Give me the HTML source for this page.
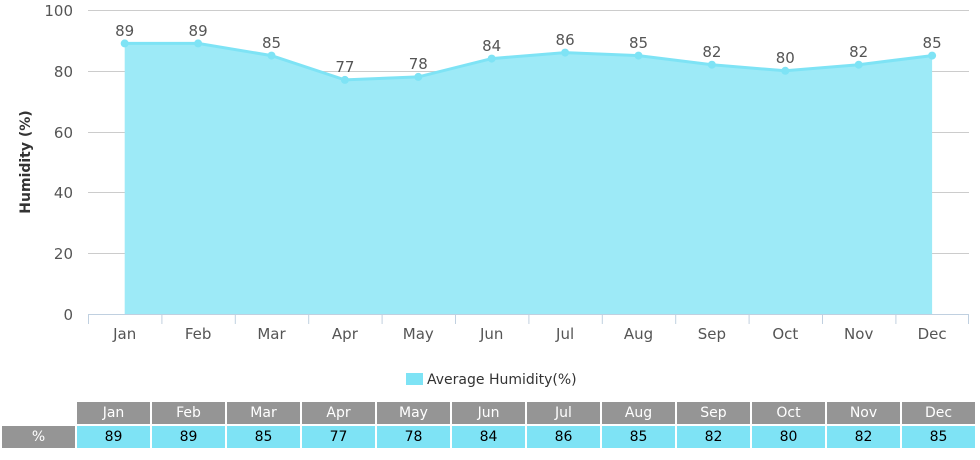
<!DOCTYPE html>
<html><head><style>
body{margin:0;background:#fff;width:980px;height:460px;overflow:hidden;font-family:"Liberation Sans",sans-serif}
svg{position:absolute;left:0;top:0}
table{position:absolute;left:0;top:400px;border-collapse:separate;border-spacing:2px;font-family:"DejaVu Sans","Liberation Sans",sans-serif;font-size:14px}
td{width:69px;height:22px;text-align:center;padding:0 2px}
td.h{background:#959595;color:#fff}
td.d{background:#7ee3f5;color:#000}
td.l{background:#959595;color:#fff}
</style></head><body>
<svg width="980" height="400" xmlns="http://www.w3.org/2000/svg">
<g stroke="#ccc" stroke-width="1">
<line x1="88" x2="969" y1="10.5" y2="10.5"/>
<line x1="88" x2="969" y1="71.5" y2="71.5"/>
<line x1="88" x2="969" y1="132.5" y2="132.5"/>
<line x1="88" x2="969" y1="192.5" y2="192.5"/>
<line x1="88" x2="969" y1="253.5" y2="253.5"/>
</g>
<g font-family="DejaVu Sans,sans-serif" font-size="15" fill="#555" text-anchor="end">
<text x="73" y="16">100</text><text x="73" y="77">80</text><text x="73" y="138">60</text>
<text x="73" y="198">40</text><text x="73" y="259">20</text><text x="73" y="320">0</text>
</g>
<text transform="translate(30,162) rotate(-90)" font-family="DejaVu Sans,sans-serif" font-size="14" font-weight="bold" fill="#333" text-anchor="middle">Humidity (%)</text>
<polygon fill="#9deaf7" points="124.7,314 124.7,43.4 198.1,43.4 271.5,55.6 344.9,79.9 418.3,76.9 491.7,58.6 565.1,52.6 638.5,55.6 711.9,64.7 785.3,70.8 858.7,64.7 932.1,55.6 932.1,314"/>
<polyline fill="none" stroke="#7ee3f5" stroke-width="3" points="124.7,43.4 198.1,43.4 271.5,55.6 344.9,79.9 418.3,76.9 491.7,58.6 565.1,52.6 638.5,55.6 711.9,64.7 785.3,70.8 858.7,64.7 932.1,55.6"/>
<g fill="#7ee3f5">
<circle cx="124.7" cy="43.4" r="4"/><circle cx="198.1" cy="43.4" r="4"/><circle cx="271.5" cy="55.6" r="4"/><circle cx="344.9" cy="79.9" r="4"/><circle cx="418.3" cy="76.9" r="4"/><circle cx="491.7" cy="58.6" r="4"/><circle cx="565.1" cy="52.6" r="4"/><circle cx="638.5" cy="55.6" r="4"/><circle cx="711.9" cy="64.7" r="4"/><circle cx="785.3" cy="70.8" r="4"/><circle cx="858.7" cy="64.7" r="4"/><circle cx="932.1" cy="55.6" r="4"/>
</g>
<g font-family="DejaVu Sans,sans-serif" font-size="15" fill="#555" text-anchor="middle">
<text x="124.7" y="36">89</text><text x="198.1" y="36">89</text><text x="271.5" y="48">85</text><text x="344.9" y="72">77</text><text x="418.3" y="69">78</text><text x="491.7" y="51">84</text><text x="565.1" y="45">86</text><text x="638.5" y="48">85</text><text x="711.9" y="57">82</text><text x="785.3" y="63">80</text><text x="858.7" y="57">82</text><text x="932.1" y="48">85</text>
</g>
<line x1="88" x2="969" y1="314.5" y2="314.5" stroke="#c0d0e0"/>
<g stroke="#c0d0e0">
<line x1="88.5" x2="88.5" y1="314" y2="324"/><line x1="161.9" x2="161.9" y1="314" y2="324"/><line x1="235.3" x2="235.3" y1="314" y2="324"/><line x1="308.7" x2="308.7" y1="314" y2="324"/><line x1="382.1" x2="382.1" y1="314" y2="324"/><line x1="455.5" x2="455.5" y1="314" y2="324"/><line x1="528.9" x2="528.9" y1="314" y2="324"/><line x1="602.3" x2="602.3" y1="314" y2="324"/><line x1="675.7" x2="675.7" y1="314" y2="324"/><line x1="749.1" x2="749.1" y1="314" y2="324"/><line x1="822.5" x2="822.5" y1="314" y2="324"/><line x1="895.9" x2="895.9" y1="314" y2="324"/><line x1="968.5" x2="968.5" y1="314" y2="324"/>
</g>
<g font-family="DejaVu Sans,sans-serif" font-size="15" fill="#555" text-anchor="middle">
<text x="124.7" y="339">Jan</text><text x="198.1" y="339">Feb</text><text x="271.5" y="339">Mar</text><text x="344.9" y="339">Apr</text><text x="418.3" y="339">May</text><text x="491.7" y="339">Jun</text><text x="565.1" y="339">Jul</text><text x="638.5" y="339">Aug</text><text x="711.9" y="339">Sep</text><text x="785.3" y="339">Oct</text><text x="858.7" y="339">Nov</text><text x="932.1" y="339">Dec</text>
</g>
<rect x="406" y="373" width="17" height="12" fill="#7ee3f5"/>
<text x="427" y="384" font-family="DejaVu Sans,sans-serif" font-size="14" fill="#333">Average Humidity(%)</text>
</svg>
<table>
<tr><td></td><td class="h">Jan</td><td class="h">Feb</td><td class="h">Mar</td><td class="h">Apr</td><td class="h">May</td><td class="h">Jun</td><td class="h">Jul</td><td class="h">Aug</td><td class="h">Sep</td><td class="h">Oct</td><td class="h">Nov</td><td class="h">Dec</td></tr>
<tr><td class="l">%</td><td class="d">89</td><td class="d">89</td><td class="d">85</td><td class="d">77</td><td class="d">78</td><td class="d">84</td><td class="d">86</td><td class="d">85</td><td class="d">82</td><td class="d">80</td><td class="d">82</td><td class="d">85</td></tr>
</table>
</body></html>
